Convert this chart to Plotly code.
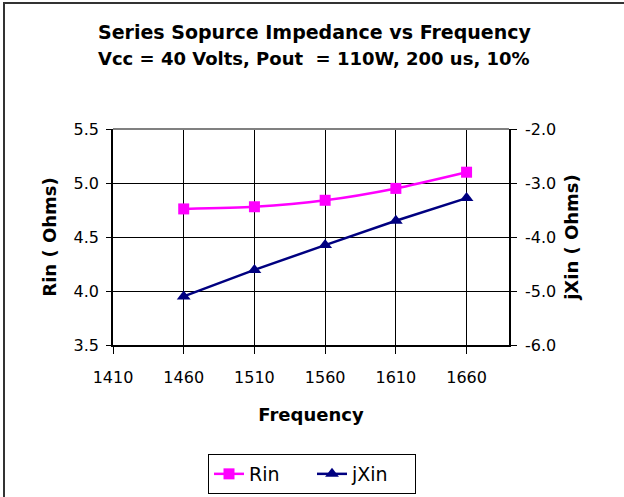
import plotly.graph_objects as go

freq = [1460, 1510, 1560, 1610, 1660]
rin = [4.76, 4.78, 4.84, 4.95, 5.10]
jxin = [-5.10, -4.61, -4.15, -3.70, -3.28]
x_ticks = [1410, 1460, 1510, 1560, 1610, 1660]
y2_ticks = [-6, -5, -4, -3, -2]
y2_labels = ["-6.0", "-5.0", "-4.0", "-3.0", "-2.0"]

FONT = "DejaVu Sans, Liberation Sans, Arial, sans-serif"

L, R, T, B = 113, 115, 129, 152
W, H = 624, 497
pw, ph = W - L - R, H - T - B

def px(x):
    return (x - L) / pw

def py(y):
    return (H - B - y) / ph

fig = go.Figure()
fig.add_trace(go.Scatter(
    x=freq, y=rin, name="Rin", mode="lines+markers",
    line=dict(color="#FF00FF", width=2.5, shape="spline", smoothing=0.6),
    marker=dict(symbol="square", size=11, color="#FF00FF"),
))
fig.add_trace(go.Scatter(
    x=freq, y=jxin, name="jXin", mode="lines+markers", yaxis="y2",
    line=dict(color="#000080", width=2.5),
    marker=dict(symbol="triangle-up", size=12, color="#000080"),
))

fig.update_layout(
    width=W, height=H,
    margin=dict(l=L, r=R, t=T, b=B, autoexpand=False),
    paper_bgcolor="white", plot_bgcolor="white",
    font=dict(family=FONT, size=16, color="black"),
    showlegend=True,
    legend=dict(orientation="h", x=0.5, xref="container", xanchor="center",
                y=(H - 454) / H, yref="container", yanchor="top",
                bordercolor="black", borderwidth=1, font=dict(size=19),
                entrywidth=58, tracegroupgap=0),
    xaxis=dict(
        range=[1410, 1690], tickvals=x_ticks, ticktext=[str(v) for v in x_ticks],
        showgrid=True, gridcolor="black", gridwidth=1,
        showline=True, linecolor="black", linewidth=1.5,
        ticks="outside", ticklen=7, tickcolor="black", ticklabelstandoff=10,
        title=dict(text="<b>Frequency</b>", font=dict(size=18), standoff=22),
        zeroline=False, automargin=False,
    ),
    yaxis=dict(
        range=[3.5, 5.5], dtick=0.5, tickformat=".1f",
        showgrid=True, gridcolor="black", gridwidth=1,
        showline=True, linecolor="black", linewidth=1.5,
        ticks="outside", ticklen=5, tickcolor="black", ticklabelstandoff=4,
        title=dict(text="<b>Rin ( Ohms)</b>", font=dict(size=18), standoff=12),
        zeroline=False, automargin=False,
    ),
    yaxis2=dict(
        range=[-6, -2], tickvals=y2_ticks, ticktext=y2_labels, overlaying="y", side="right",
        showgrid=False, showline=True, linecolor="black", linewidth=1.5,
        ticks="outside", ticklen=6, tickcolor="black", ticklabelstandoff=5,
        title=dict(text="<b>jXin ( Ohms)</b>", font=dict(size=18), standoff=10),
        zeroline=False, automargin=False,
    ),
    shapes=[
        dict(type="line", xref="paper", yref="paper", x0=0, x1=1, y0=1, y1=1,
             line=dict(color="#808080", width=2)),
        dict(type="rect", xref="paper", yref="paper",
             x0=px(4), x1=px(640), y0=py(3), y1=py(520),
             line=dict(color="#333333", width=2)),
    ],
    annotations=[
        dict(text="<b>Series Sopurce Impedance vs Frequency</b>", xref="paper", yref="paper",
             x=px(314), y=py(32), xanchor="center", yanchor="middle", showarrow=False,
             font=dict(size=19)),
        dict(text="<b>Vcc = 40 Volts, Pout&nbsp; = 110W, 200 us, 10%</b>", xref="paper", yref="paper",
             x=px(314), y=py(59), xanchor="center", yanchor="middle", showarrow=False,
             font=dict(size=18)),
    ],
)

fig.write_html("out.html", config={"displayModeBar": False},
               post_script="document.body.style.margin='0';")
